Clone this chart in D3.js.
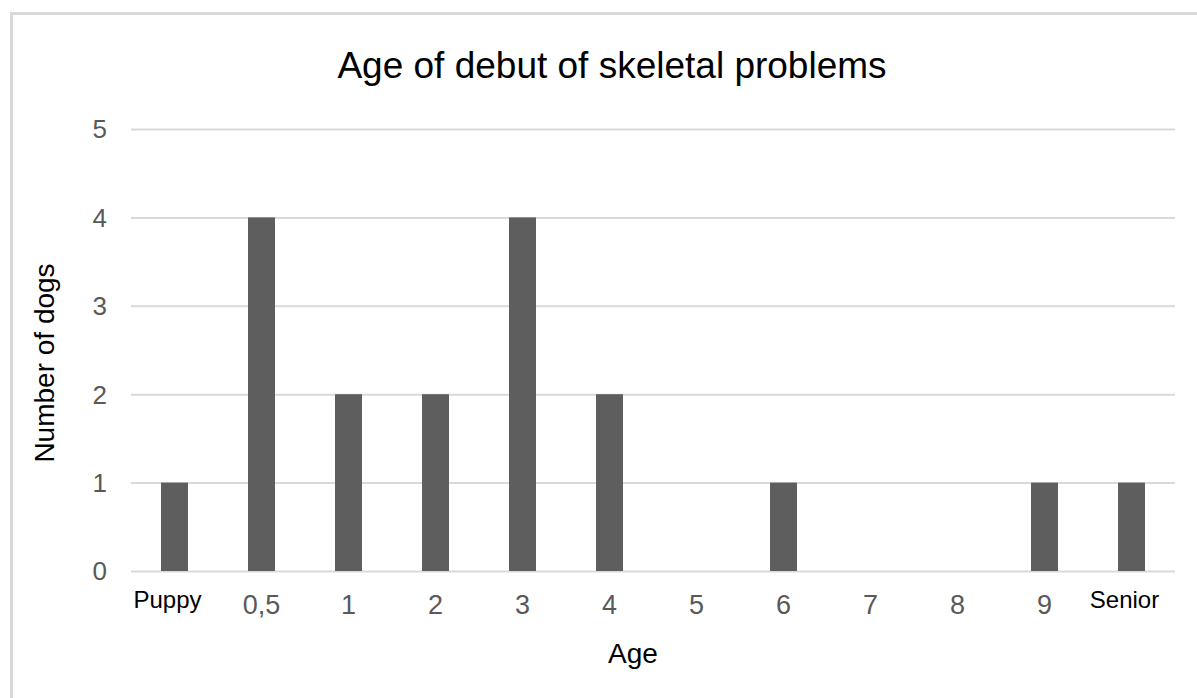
<!DOCTYPE html>
<html>
<head>
<meta charset="utf-8">
<script src="https://cdn.jsdelivr.net/npm/d3@7"></script>
<style>
  body { margin: 0; background: #fff; }
  svg { display: block; font-family: "Liberation Sans", Arial, sans-serif; }
</style>
</head>
<body>
<svg id="chart" width="1197" height="698"></svg>
<script>
// data
const ages = ['Puppy', '0,5', '1', '2', '3', '4', '5', '6', '7', '8', '9', 'Senior'];
const dogs = [1, 4, 2, 2, 4, 2, 0, 1, 0, 0, 1, 1];
const yTicks = [0, 1, 2, 3, 4, 5];
const wordLabels = ['Puppy', 'Senior'];

const W = 1197, H = 698;
const plot = {left: 131, right: 1175, top: 129, bottom: 571};

const svg = d3.select('#chart');

// frame (only the left and top edges show in the picture)
svg.append('path')
    .attr('d', `M11.5,${H} V13.5 H${W}`)
    .attr('fill', 'none')
    .attr('stroke', '#d9d9d9')
    .attr('stroke-width', 3);

const x = d3.scaleBand()
    .domain(ages)
    .range([plot.left, plot.right])
    .paddingInner(0.69)
    .paddingOuter(0.345);

const y = d3.scaleLinear()
    .domain([0, 5])
    .range([plot.bottom, plot.top]);

// gridlines + y labels
const yAxis = svg.append('g')
    .attr('transform', `translate(${plot.left},0)`)
    .call(d3.axisLeft(y)
        .tickValues(yTicks)
        .tickFormat(d3.format('d'))
        .tickSize(-(plot.right - plot.left))
        .tickPadding(24));
yAxis.select('.domain').remove();
yAxis.selectAll('line').attr('stroke', '#d9d9d9').attr('stroke-width', 2);
yAxis.selectAll('text')
    .attr('fill', '#595959')
    .style('font-size', '26px')
    .attr('dy', '0.34em');

// bars
svg.append('g')
    .selectAll('rect')
    .data(ages).enter().append('rect')
    .attr('x', d => x(d))
    .attr('y', (d, i) => y(dogs[i]))
    .attr('width', x.bandwidth())
    .attr('height', (d, i) => y(0) - y(dogs[i]))
    .attr('fill', '#5e5e5e');

// x labels
const xAxis = svg.append('g')
    .attr('transform', `translate(0,${plot.bottom})`)
    .call(d3.axisBottom(x).tickSize(0));
xAxis.select('.domain').remove();
xAxis.selectAll('text')
    .attr('dy', null)
    .each(function(d) {
        const t = d3.select(this);
        if (wordLabels.includes(d)) {
            t.attr('y', 37).attr('dx', -7).attr('fill', '#000').style('font-size', '24px');
        } else {
            t.attr('y', 43).attr('fill', '#595959').style('font-size', '27px');
        }
    });

// titles
svg.append('text')
    .attr('x', 612).attr('y', 78)
    .attr('text-anchor', 'middle')
    .style('font-size', '37px')
    .text('Age of debut of skeletal problems');

svg.append('text')
    .attr('x', 633).attr('y', 663)
    .attr('text-anchor', 'middle')
    .style('font-size', '28px')
    .text('Age');

svg.append('text')
    .attr('transform', 'translate(54,363) rotate(-90)')
    .attr('text-anchor', 'middle')
    .style('font-size', '28px')
    .text('Number of dogs');
</script>
</body>
</html>
